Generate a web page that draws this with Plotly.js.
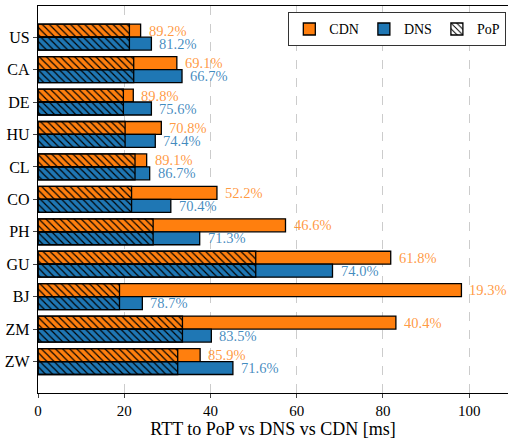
<!DOCTYPE html>
<html>
<head>
<meta charset="utf-8">
<script src="https://cdn.plot.ly/plotly-3.0.1.min.js"></script>
<style>html,body{margin:0;padding:0;background:#fff;} #chart{width:508px;height:442px;}</style>
</head>
<body>
<div id="chart"></div>
<script>
const countries = ["US","CA","DE","HU","CL","CO","PH","GU","BJ","ZM","ZW"];
const cdnRtt = [23.8, 32.2, 22.1, 28.6, 25.2, 41.5, 57.4, 81.8, 98.2, 83.0, 37.6];
const dnsRtt = [26.3, 33.4, 26.3, 27.2, 25.9, 30.8, 37.5, 68.3, 24.2, 40.2, 45.2];
const popRtt = [21.2, 22.2, 19.8, 20.2, 22.5, 21.7, 26.7, 50.5, 18.9, 33.5, 32.4];
const cdnPct = ["89.2%","69.1%","89.8%","70.8%","89.1%","52.2%","46.6%","61.8%","19.3%","40.4%","85.9%"];
const dnsPct = ["81.2%","66.7%","75.6%","74.4%","86.7%","70.4%","71.3%","74.0%","78.7%","83.5%","71.6%"];

const ORANGE = "#ff7f0e", BLUE = "#1f77b4";
const FONT = "Liberation Serif";
const edge = {color: "#000", width: 1.3};
const hatch = {shape: "\\", fgcolor: "#000", bgcolor: "rgba(0,0,0,0)", size: 5, solidity: 0.24, fillmode: "replace"};

const base = {type: "bar", orientation: "h", y: countries, width: 0.4, hoverinfo: "skip"};
const traces = [
  Object.assign({}, base, {name: "CDN", x: cdnRtt, offset: -0.4, marker: {color: ORANGE, line: edge}}),
  Object.assign({}, base, {name: "DNS", x: dnsRtt, offset: 0, marker: {color: BLUE, line: edge}}),
  Object.assign({}, base, {name: "PoP", x: popRtt, offset: -0.4,
    marker: {color: "rgba(0,0,0,0)", line: edge, pattern: hatch}}),
  Object.assign({}, base, {name: "PoP", x: popRtt, offset: 0, showlegend: false,
    marker: {color: "rgba(0,0,0,0)", line: edge, pattern: hatch}})
];

const annotations = [];
countries.forEach((c, i) => {
  annotations.push({x: cdnRtt[i], y: i - 0.2, xref: "x", yref: "y", text: cdnPct[i], showarrow: false,
    xanchor: "left", yanchor: "middle", xshift: 6, font: {family: FONT, size: 14.5, color: "rgba(255,127,14,0.8)"}});
  annotations.push({x: dnsRtt[i], y: i + 0.2, xref: "x", yref: "y", text: dnsPct[i], showarrow: false,
    xanchor: "left", yanchor: "middle", xshift: 6, font: {family: FONT, size: 14.5, color: "rgba(31,119,180,0.85)"}});
});

const layout = {
  width: 508, height: 442,
  margin: {l: 38, r: 0, t: 6, b: 49},
  paper_bgcolor: "#fff", plot_bgcolor: "#fff",
  barmode: "overlay",
  font: {family: FONT, size: 15, color: "#000"},
  showlegend: true,
  legend: {orientation: "h", x: 0.996, xanchor: "right", y: 0.984, yanchor: "top",
    bgcolor: "#fff", bordercolor: "#333", borderwidth: 1.2, font: {family: FONT, size: 14},
    traceorder: "normal", itemwidth: 30},
  xaxis: {range: [0, 109], tickvals: [0, 20, 40, 60, 80, 100], ticks: "outside", ticklen: 4,
    showline: true, linecolor: "#000", linewidth: 1.2, mirror: true,
    showgrid: true, gridcolor: "#cccccc", griddash: "dash", gridwidth: 1, zeroline: false,
    title: {text: "RTT to PoP vs DNS vs CDN [ms]", font: {family: FONT, size: 18}, standoff: 3},
    tickfont: {family: FONT, size: 15}},
  yaxis: {type: "category", categoryorder: "array", categoryarray: countries,
    range: [10.97, -0.96], ticks: "outside", ticklen: 4,
    showline: true, linecolor: "#000", linewidth: 1.2, mirror: false, showgrid: false, zeroline: false,
    tickfont: {family: FONT, size: 16}},
  annotations: annotations
};

Plotly.newPlot("chart", traces, layout, {staticPlot: true, displayModeBar: false});
</script>
</body>
</html>
